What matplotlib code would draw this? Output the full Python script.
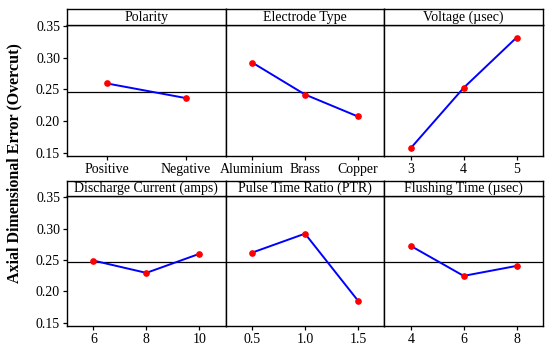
import matplotlib
matplotlib.use("Agg")
import matplotlib.pyplot as plt

plt.rcParams['font.family'] = ['Liberation Serif', 'DejaVu Serif']

# factor names and levels (main effects plot)
factors = ['Polarity', 'Electrode Type', 'Voltage (\u00b5sec)',
           'Discharge Current (amps)', 'Pulse Time Ratio (PTR)', 'Flushing Time (\u00b5sec)']
levels = [['Positive', 'Negative'],
          ['Aluminium', 'Brass', 'Copper'],
          ['3', '4', '5'],
          ['6', '8', '10'],
          ['0.5', '1.0', '1.5'],
          ['4', '6', '8']]

polarity = [0.2595, 0.2362]
electrode = [0.2926, 0.2419, 0.2071]
voltage = [0.1570, 0.2525, 0.3321]
current = [0.2489, 0.2293, 0.2596]
ptr = [0.2616, 0.2919, 0.1851]
flushing = [0.2723, 0.2245, 0.2404]
means = [polarity, electrode, voltage, current, ptr, flushing]

overall_mean = 0.2465
yticks = [0.15, 0.20, 0.25, 0.30, 0.35]

W, H = 550, 352
fig = plt.figure(figsize=(W / 100, H / 100), dpi=100)

left, right = 67, 543
pw = (right - left) / 3
rows = [(25, 156, 9), (196, 326, 181)]   # plot top, plot bottom, strip top (pixels)

for i in range(6):
    r, c = divmod(i, 3)
    top, bot, stop = rows[r]
    x0 = left + c * pw
    ax = fig.add_axes([x0 / W, 1 - bot / H, pw / W, (bot - top) / H])
    sx = fig.add_axes([x0 / W, 1 - top / H, pw / W, (top - stop) / H])

    vals = means[i]
    n = len(vals)
    xs = list(range(1, n + 1))
    ax.axhline(overall_mean, color='black', lw=0.9, zorder=1)
    ax.plot(xs, vals, color='blue', lw=1.4, zorder=2)
    ax.plot(xs, vals, 'o', color='red', ms=3.8, zorder=3)
    ax.set_xlim(0.5, n + 0.5)
    ax.set_ylim(0.1445, 0.352)
    ax.set_xticks(xs)
    ax.set_xticklabels(levels[i], fontsize=10)
    ax.set_yticks(yticks)
    if c == 0:
        ax.set_yticklabels(['%.2f' % v for v in yticks], fontsize=10)
    else:
        ax.tick_params(axis='y', left=False, labelleft=False)
    ax.tick_params(length=3, width=0.9, pad=2)
    for s in ax.spines.values():
        s.set_linewidth(1.0)

    sx.set_xticks([])
    sx.set_yticks([])
    for s in sx.spines.values():
        s.set_linewidth(1.0)
    sx.text(0.5, 0.5, factors[i], ha='center', va='center', fontsize=10,
            transform=sx.transAxes)

fig.text(14 / W, 1 - 163 / H, 'Axial Dimensional Error (Overcut)', rotation=90,
         ha='center', va='center', fontsize=11.5, fontweight='bold')

fig.savefig('out.png', dpi=100)
